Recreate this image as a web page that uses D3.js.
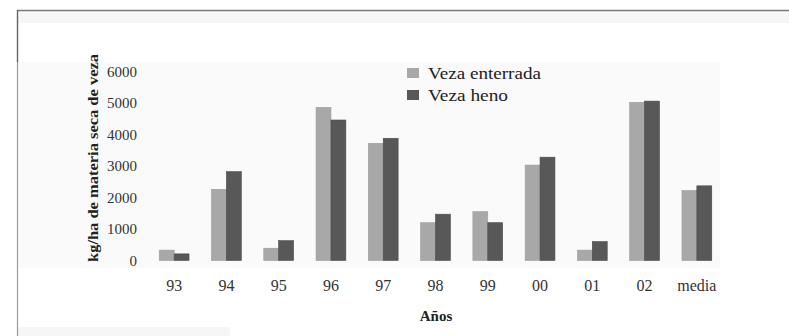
<!DOCTYPE html>
<html>
<head>
<meta charset="utf-8">
<script src="https://cdn.jsdelivr.net/npm/d3@7"></script>
<style>
  html, body { margin: 0; padding: 0; background: #fff; }
  svg { display: block; }
  text { font-family: "Liberation Serif", "Times New Roman", serif; }
</style>
</head>
<body>
<svg id="chart" width="789" height="336"></svg>
<script>
// Años de ensayo y producción de materia seca de veza (kg/ha)
const years = ["93", "94", "95", "96", "97", "98", "99", "00", "01", "02", "media"];
const seriesNames = ["Veza enterrada", "Veza heno"];
const vezaEnterrada = [330, 2260, 390, 4860, 3720, 1200, 1550, 3030, 330, 5020, 2220];
const vezaHeno = [210, 2820, 630, 4460, 3880, 1470, 1200, 3280, 600, 5060, 2370];
const yTicks = [0, 1000, 2000, 3000, 4000, 5000, 6000];
const colors = ["#a8a8a8", "#585858"];

const svg = d3.select("#chart");

// marco exterior y zona del gráfico
svg.append("rect").attr("x", 17).attr("y", 11).attr("width", 772).attr("height", 12).attr("fill", "#f6f6f6");
svg.append("rect").attr("x", 17).attr("y", 62).attr("width", 703).attr("height", 206).attr("fill", "#fafafa");
svg.append("rect").attr("x", 17).attr("y", 327).attr("width", 213).attr("height", 9).attr("fill", "#f6f6f6");
svg.append("line").attr("x1", 17).attr("x2", 789).attr("y1", 10.5).attr("y2", 10.5)
  .attr("stroke", "#7a7a7a").attr("stroke-width", 1.3);
svg.append("line").attr("x1", 17.5).attr("x2", 17.5).attr("y1", 10).attr("y2", 62)
  .attr("stroke", "#666").attr("stroke-width", 1.4);
svg.append("line").attr("x1", 17.5).attr("x2", 17.5).attr("y1", 62).attr("y2", 336)
  .attr("stroke", "#9a9a9a").attr("stroke-width", 1.2);

const x0 = d3.scaleBand().domain(years).range([148, 723]).paddingInner(0.43).paddingOuter(0.215);
const x1 = d3.scaleBand().domain(seriesNames).range([0, x0.bandwidth()]).padding(0);
const y = d3.scaleLinear().domain([0, 6000]).range([260.5, 71.5]);

const rows = years.map((yr, i) => ({ year: yr, values: [vezaEnterrada[i], vezaHeno[i]] }));

// barras
const groups = svg.append("g").selectAll("g").data(rows).join("g")
  .attr("transform", d => `translate(${x0(d.year)},0)`);
groups.selectAll("rect").data(d => d.values.map((v, k) => ({ key: seriesNames[k], value: v, k })))
  .join("rect")
  .attr("x", d => x1(d.key))
  .attr("y", d => y(d.value))
  .attr("width", x1.bandwidth())
  .attr("height", d => y(0) - y(d.value))
  .attr("fill", d => colors[d.k])
  .attr("stroke", d => d.k ? "#4a4a4a" : "#9c9c9c")
  .attr("stroke-width", 0.6);

// eje Y
const yAxis = svg.append("g").attr("transform", "translate(139,0)")
  .call(d3.axisLeft(y).tickValues(yTicks).tickSize(0).tickPadding(2).tickFormat(d3.format("d")));
yAxis.select(".domain").remove();
yAxis.selectAll("text").attr("font-size", 15).attr("fill", "#333")
  .style("font-family", "'Liberation Serif', serif");

// eje X
const xAxis = svg.append("g").attr("transform", "translate(0,277)")
  .call(d3.axisBottom(x0).tickSize(0).tickPadding(3));
xAxis.select(".domain").remove();
xAxis.selectAll("text").attr("font-size", 16).attr("fill", "#333")
  .style("font-family", "'Liberation Serif', serif");

// títulos de ejes
svg.append("text").attr("x", 436).attr("y", 321).attr("text-anchor", "middle")
  .attr("font-size", 15).attr("font-weight", "bold").attr("fill", "#222").text("Años");
svg.append("text").attr("transform", "translate(98,158) rotate(-90)").attr("text-anchor", "middle")
  .attr("font-size", 15.5).attr("font-weight", "bold").attr("fill", "#222")
  .attr("textLength", 208).attr("lengthAdjust", "spacingAndGlyphs")
  .text("kg/ha de materia seca de veza");

// leyenda
const legend = svg.append("g").selectAll("g").data(seriesNames).join("g")
  .attr("transform", (d, i) => `translate(407,${68 + i * 22})`);
legend.append("rect").attr("width", 12).attr("height", 10).attr("fill", (d, i) => colors[i]);
legend.append("text").attr("x", 21).attr("y", 10.5).attr("font-size", 16.5).attr("fill", "#222")
  .attr("textLength", (d, i) => i ? 80 : 113).attr("lengthAdjust", "spacingAndGlyphs")
  .text(d => d);
</script>
</body>
</html>
